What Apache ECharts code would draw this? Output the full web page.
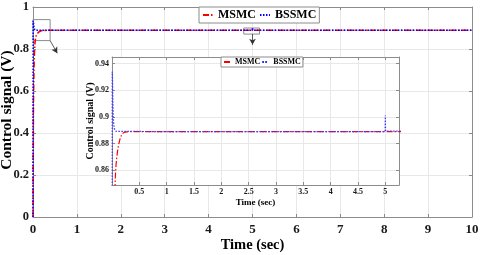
<!DOCTYPE html>
<html><head><meta charset="utf-8">
<script src="https://cdn.jsdelivr.net/npm/echarts@6/dist/echarts.min.js"></script>
<style>html,body{margin:0;padding:0;background:#fff}#c{width:480px;height:255px}</style>
</head><body><div id="c"></div>
<script>
// ---- data ----
const seriesNames = ['MSMC', 'BSSMC'];
const xTicks = [0,1,2,3,4,5,6,7,8,9,10];
const yTicks = [0,0.2,0.4,0.6,0.8,1];

const tMSMC = [0, 0.01, 0.02, 0.03, 0.04, 0.05, 0.06, 0.07, 0.08, 0.10, 0.12, 0.15, 0.18, 0.22, 0.30, 1, 2, 3, 4, 4.99, 5.0, 5.005, 5.01, 5.02, 5.05, 6, 7, 8, 9, 10];
const vMSMC = [0, 0.55, 0.69, 0.77, 0.815, 0.84, 0.854, 0.862, 0.867, 0.874, 0.879, 0.884, 0.887, 0.8885, 0.889, 0.889, 0.889, 0.889, 0.889, 0.889, 0.8898, 0.8896, 0.8893, 0.8891, 0.889, 0.889, 0.889, 0.889, 0.889, 0.889];

const tBSSMC = [0, 0.004, 0.008, 0.015, 0.022, 0.03, 0.04, 0.05, 0.07, 0.10, 1, 2, 3, 4, 4.995, 5.0, 5.002, 5.006, 5.015, 5.03, 6, 7, 8, 9, 10];
const vBSSMC = [0, 0.934, 0.932, 0.915, 0.902, 0.895, 0.8915, 0.8902, 0.8893, 0.889, 0.889, 0.889, 0.889, 0.889, 0.889, 0.9012, 0.894, 0.8895, 0.889, 0.889, 0.889, 0.889, 0.889, 0.889, 0.889];

// zoom-box annotations (data coordinates of the main axes)
const zoomBoxes = [[[0, 0.84], [0.39, 0.94]], [[4.8, 0.871], [5.16, 0.9]]];
const zoomArrows = [[[0.39, 0.84], [0.553, 0.78]], [[5.0, 0.871], [5.0, 0.82]]];

// inset range
const insetX = [0, 5.25];
const insetY = [0.849, 0.945];

const FONT = '"Liberation Serif", "Times New Roman", serif';
const AX = '#8c8c8c', GRID = '#e8e8e8', TXT = '#1a1a1a';
const RED = '#ff0000', BLUE = '#0000ff';
const redDash = [6, 2, 1.5, 2], blueDot = [1.5, 1.5];

const zip = (t, v) => t.map((x, i) => [x, v[i]]);
const dM = zip(tMSMC, vMSMC), dB = zip(tBSSMC, vBSSMC);

function frame(gridIndex, pos, isX, opts) {
  const a = Object.assign({
    type: 'value', gridIndex, position: pos, nameMoveOverlap: false,
    axisLine: { show: true, onZero: false, lineStyle: { color: AX, width: 1 } },
    axisTick: { show: true, inside: true, length: 3, lineStyle: { color: AX } },
    axisLabel: { show: false },
    splitLine: { show: false }
  }, opts);
  return a;
}

const chart = echarts.init(document.getElementById('c'), null, { renderer: 'canvas' });
const option = {
  animation: false,
  backgroundColor: '#fff',
  grid: [
    { left: 33, right: 8, top: 7, bottom: 38, containLabel: false, outerBoundsMode: 'none' },
    { left: 112, right: 81, top: 57, bottom: 70, show: true, backgroundColor: '#fff', borderWidth: 0, z: 5,
      containLabel: false, outerBoundsMode: 'none' }
  ],
  legend: [
    { data: seriesNames, left: 199, top: 7, orient: 'horizontal', itemGap: 3, itemWidth: 10, itemHeight: 8,
      padding: [2, 3], backgroundColor: '#fff', borderColor: AX, borderWidth: 1, z: 10,
      itemStyle: { opacity: 0 },
      textStyle: { fontFamily: FONT, fontWeight: 'bold', fontSize: 12, color: '#000' } },
    { data: seriesNames, left: 221, top: 57, orient: 'horizontal', itemGap: 1, itemWidth: 6, itemHeight: 6,
      padding: [1, 2], backgroundColor: '#fff', borderColor: AX, borderWidth: 1, z: 10,
      itemStyle: { opacity: 0 },
      textStyle: { fontFamily: FONT, fontWeight: 'bold', fontSize: 8, color: '#000' } }
  ],
  xAxis: [
    frame(0, 'bottom', true, {
      min: xTicks[0], max: xTicks[xTicks.length - 1], interval: 1,
      axisLabel: { show: true, margin: 6, fontFamily: FONT, fontWeight: 'bold', fontSize: 13, color: TXT },
      splitLine: { show: true, lineStyle: { color: GRID, width: 1 } },
      name: 'Time (sec)', nameLocation: 'middle', nameGap: 21,
      nameTextStyle: { fontFamily: FONT, fontWeight: 'bold', fontSize: 14.5, color: '#000' }
    }),
    frame(0, 'top', true, { min: xTicks[0], max: xTicks[xTicks.length - 1], interval: 1 }),
    frame(1, 'bottom', true, {
      min: insetX[0], max: insetX[1], splitNumber: 10, z: 6,
      axisLabel: { show: true, margin: 3, fontFamily: FONT, fontWeight: 'bold', fontSize: 8, color: TXT,
        formatter: v => (v > 0 && Math.abs(v / 0.5 - Math.round(v / 0.5)) < 1e-6) ? String(+v.toFixed(1)) : '' },
      splitLine: { show: true, lineStyle: { color: GRID, width: 1 } },
      name: 'Time (sec)', nameLocation: 'middle', nameGap: 13,
      nameTextStyle: { fontFamily: FONT, fontWeight: 'bold', fontSize: 9, color: '#000' }
    }),
    frame(1, 'top', true, { min: insetX[0], max: insetX[1], splitNumber: 10, z: 6 })
  ],
  yAxis: [
    frame(0, 'left', false, {
      min: yTicks[0], max: yTicks[yTicks.length - 1], interval: 0.2,
      axisLabel: { show: true, margin: 4, fontFamily: FONT, fontWeight: 'bold', fontSize: 12.5, color: TXT,
        formatter: v => String(+v.toFixed(1)) },
      splitLine: { show: true, lineStyle: { color: GRID, width: 1 } },
      name: 'Control signal (V)', nameLocation: 'middle', nameGap: 18,
      nameTextStyle: { fontFamily: FONT, fontWeight: 'bold', fontSize: 15.5, color: '#000', padding: [0, 0, 0, 4] }
    }),
    frame(0, 'right', false, { min: yTicks[0], max: yTicks[yTicks.length - 1], interval: 0.2 }),
    frame(1, 'left', false, {
      min: insetY[0], max: insetY[1], splitNumber: 5, z: 6,
      axisLabel: { show: true, margin: 3, fontFamily: FONT, fontWeight: 'bold', fontSize: 8, color: TXT,
        formatter: v => (Math.abs(v / 0.02 - Math.round(v / 0.02)) < 1e-6) ? String(+v.toFixed(2)) : '' },
      splitLine: { show: true, lineStyle: { color: GRID, width: 1 } },
      name: 'Control signal (V)', nameLocation: 'middle', nameGap: 17,
      nameTextStyle: { fontFamily: FONT, fontWeight: 'bold', fontSize: 10, color: '#000' }
    }),
    frame(1, 'right', false, { min: insetY[0], max: insetY[1], splitNumber: 5, z: 6 })
  ],
  series: [
    { name: seriesNames[0], type: 'line', xAxisIndex: 0, yAxisIndex: 0, data: dM, symbol: 'none',
      lineStyle: { color: RED, width: 1.6, type: redDash }, itemStyle: { color: RED }, z: 2,
      markArea: { silent: true, itemStyle: { color: 'rgba(0,0,0,0)', borderColor: AX, borderWidth: 1 },
        data: zoomBoxes.map(b => [{ coord: b[0] }, { coord: b[1] }]) },
      markLine: { silent: true, symbol: ['none', 'arrow'], symbolSize: [5, 6], label: { show: false },
        lineStyle: { color: '#333', width: 0.8, type: 'solid' },
        data: zoomArrows.map(a => [{ coord: a[0] }, { coord: a[1] }]) } },
    { name: seriesNames[1], type: 'line', xAxisIndex: 0, yAxisIndex: 0, data: dB, symbol: 'none',
      lineStyle: { color: BLUE, width: 1.6, type: blueDot }, itemStyle: { color: BLUE }, z: 3 },
    { name: seriesNames[0], type: 'line', xAxisIndex: 2, yAxisIndex: 2, data: dM, symbol: 'none', clip: true,
      lineStyle: { color: RED, width: 1.2, type: redDash }, itemStyle: { color: RED }, z: 7 },
    { name: seriesNames[1], type: 'line', xAxisIndex: 2, yAxisIndex: 2, data: dB, symbol: 'none', clip: true,
      lineStyle: { color: '#3a3aff', width: 1.2, type: blueDot }, itemStyle: { color: BLUE }, z: 8 }
  ]
};
chart.setOption(option);
</script></body></html>
